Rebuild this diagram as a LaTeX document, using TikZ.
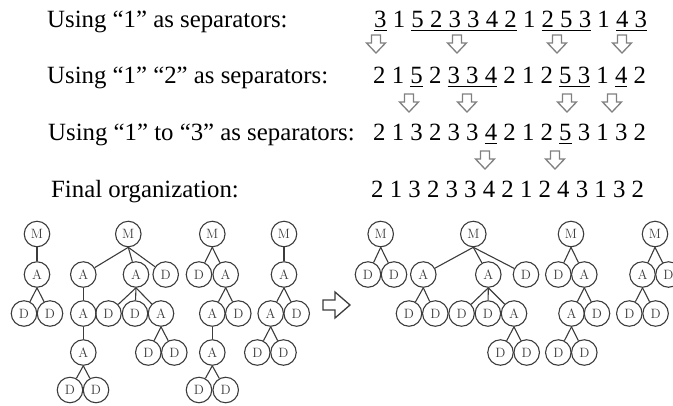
\documentclass[tikz,border=0pt]{standalone}
\usepackage{fontspec}
\newfontfamily\tnr{Liberation Serif}
\newcommand\myul[1]{\setbox0=\hbox{#1}\rlap{\rule[-4bp]{\wd0}{1.5bp}}\box0\relax}
\definecolor{treegray}{HTML}{3C3C3C}
\definecolor{arrgray}{HTML}{808080}
\tikzset{
  rowtext/.style={inner sep=0, anchor=base west, font=\tnr\fontsize{24.8bp}{28bp}\selectfont},
  tn/.style={circle, draw=treegray, line width=1.1bp, minimum size=25.5bp, inner sep=0,
             text=treegray, font=\fontsize{13.5bp}{13.5bp}\selectfont},
  edge/.style={draw=treegray, line width=1.1bp},
  garrow/.style={draw=arrgray, fill=white, line width=1.3bp, line join=miter},
  barrow/.style={draw=treegray, fill=white, line width=1.3bp, line join=miter},
  darr/.pic={\draw[garrow] (-4.5,0) -- (4.5,0) -- (4.5,8) -- (9.5,8) -- (0,18) -- (-9.5,8) -- (-4.5,8) -- cycle;}
}
\begin{document}
\begin{tikzpicture}[x=1bp,y=-1bp]
\useasboundingbox (0,0) rectangle (673,405);
\clip (0,0) rectangle (673,405);
% text rows
\node[rowtext] (lab1) at (47,27) {Using “1” as separators:};
\node[rowtext] (lab2) at (47,83) {Using “1” “2” as separators:};
\node[rowtext] (lab3) at (48,140) {Using “1” to “3” as separators:};
\node[rowtext] (lab4) at (51,197) {Final organization:};
\node[rowtext] (seq1) at (374,27) {\myul{3} 1 \myul{5 2 3 3 4 2} 1 \myul{2 5 3} 1 \myul{4 3}};
\node[rowtext] (seq2) at (373,83) {2 1 \myul{5} 2 \myul{3 3 4} 2 1 2 \myul{5 3} 1 \myul{4} 2};
\node[rowtext] (seq3) at (373,140) {2 1 3 2 3 3 \myul{4} 2 1 2 \myul{5} 3 1 3 2};
\node[rowtext] (seq4) at (371,197) {2 1 3 2 3 3 4 2 1 2 4 3 1 3 2};
% down arrows
\pic at (376,35) {darr};
\pic at (457,35) {darr};
\pic at (557,35) {darr};
\pic at (622,35) {darr};
\pic at (409,94) {darr};
\pic at (467,94) {darr};
\pic at (567,94) {darr};
\pic at (612,94) {darr};
\pic at (485,151) {darr};
\pic at (555,151) {darr};
% big arrow
\draw[barrow] (323,300) -- (335,300) -- (335,292) -- (350,305) -- (335,318) -- (335,310) -- (323,310) -- cycle;
% ---------- left trees ----------
% L1
\node[tn] (L1m) at (37,234) {M};
\node[tn] (L1a) at (37,274.5) {A};
\node[tn] (L1d1) at (24,313.5) {D};
\node[tn] (L1d2) at (50,313.5) {D};
\draw[edge] (L1m) -- (L1a);
\draw[edge] (L1a.south) -- (L1d1);
\draw[edge] (L1a.south) -- (L1d2);
% L2
\node[tn] (L2m) at (128.3,234) {M};
\node[tn] (L2a1) at (83.3,274.5) {A};
\node[tn] (L2a2) at (136,274.5) {A};
\node[tn] (L2d) at (165.7,274.5) {D};
\node[tn] (L2a1a) at (83.3,313.5) {A};
\node[tn] (L2a1aa) at (83.3,352.5) {A};
\node[tn] (L2dd1) at (70,390) {D};
\node[tn] (L2dd2) at (96,390) {D};
\node[tn] (L2a2d1) at (108.5,313.5) {D};
\node[tn] (L2a2d2) at (135,313.5) {D};
\node[tn] (L2a2a) at (161,313.5) {A};
\node[tn] (L2a2ad1) at (148.3,352.5) {D};
\node[tn] (L2a2ad2) at (174.3,352.5) {D};
\draw[edge] (L2m.south) -- (L2a1);
\draw[edge] (L2m.south) -- (L2a2);
\draw[edge] (L2m.south) -- (L2d);
\draw[edge] (L2a1) -- (L2a1a);
\draw[edge] (L2a1a) -- (L2a1aa);
\draw[edge] (L2a1aa.south) -- (L2dd1);
\draw[edge] (L2a1aa.south) -- (L2dd2);
\draw[edge] (L2a2.south) -- (L2a2d1);
\draw[edge] (L2a2.south) -- (L2a2d2);
\draw[edge] (L2a2.south) -- (L2a2a);
\draw[edge] (L2a2a.south) -- (L2a2ad1);
\draw[edge] (L2a2a.south) -- (L2a2ad2);
% L3
\node[tn] (L3m) at (212.3,234) {M};
\node[tn] (L3d) at (199,274.5) {D};
\node[tn] (L3a) at (225.7,274.5) {A};
\node[tn] (L3aa) at (212.3,313.5) {A};
\node[tn] (L3ad) at (238.3,313.5) {D};
\node[tn] (L3aaa) at (212.3,352.5) {A};
\node[tn] (L3d1) at (199,390) {D};
\node[tn] (L3d2) at (225.7,390) {D};
\draw[edge] (L3m.south) -- (L3d);
\draw[edge] (L3m.south) -- (L3a);
\draw[edge] (L3a.south) -- (L3aa);
\draw[edge] (L3a.south) -- (L3ad);
\draw[edge] (L3aa) -- (L3aaa);
\draw[edge] (L3aaa.south) -- (L3d1);
\draw[edge] (L3aaa.south) -- (L3d2);
% L4
\node[tn] (L4m) at (284,234) {M};
\node[tn] (L4a) at (284,274.5) {A};
\node[tn] (L4aa) at (270.7,313.5) {A};
\node[tn] (L4ad) at (296.7,313.5) {D};
\node[tn] (L4aad1) at (257.3,352.5) {D};
\node[tn] (L4aad2) at (283.5,352.5) {D};
\draw[edge] (L4m) -- (L4a);
\draw[edge] (L4a.south) -- (L4aa);
\draw[edge] (L4a.south) -- (L4ad);
\draw[edge] (L4aa.south) -- (L4aad1);
\draw[edge] (L4aa.south) -- (L4aad2);
% ---------- right trees ----------
% R1
\node[tn] (R1m) at (380.7,234) {M};
\node[tn] (R1d1) at (368,274.5) {D};
\node[tn] (R1d2) at (394,274.5) {D};
\draw[edge] (R1m.south) -- (R1d1);
\draw[edge] (R1m.south) -- (R1d2);
% R2
\node[tn] (R2m) at (473.3,234) {M};
\node[tn] (R2a1) at (423.3,274.5) {A};
\node[tn] (R2a2) at (488.3,274.5) {A};
\node[tn] (R2d) at (526,274.5) {D};
\node[tn] (R2a1d1) at (409,313.5) {D};
\node[tn] (R2a1d2) at (435.3,313.5) {D};
\node[tn] (R2a2d1) at (461.6,313.5) {D};
\node[tn] (R2a2d2) at (487.9,313.5) {D};
\node[tn] (R2a2a) at (514,313.5) {A};
\node[tn] (R2a2ad1) at (500.5,352.5) {D};
\node[tn] (R2a2ad2) at (526.7,352.5) {D};
\draw[edge] (R2m.south) -- (R2a1);
\draw[edge] (R2m.south) -- (R2a2);
\draw[edge] (R2m.south) -- (R2d);
\draw[edge] (R2a1.south) -- (R2a1d1);
\draw[edge] (R2a1.south) -- (R2a1d2);
\draw[edge] (R2a2.south) -- (R2a2d1);
\draw[edge] (R2a2.south) -- (R2a2d2);
\draw[edge] (R2a2.south) -- (R2a2a);
\draw[edge] (R2a2a.south) -- (R2a2ad1);
\draw[edge] (R2a2a.south) -- (R2a2ad2);
% R3
\node[tn] (R3m) at (571,234) {M};
\node[tn] (R3d) at (558.3,274.5) {D};
\node[tn] (R3a) at (584.3,274.5) {A};
\node[tn] (R3aa) at (571.5,313.5) {A};
\node[tn] (R3ad) at (597,313.5) {D};
\node[tn] (R3aad1) at (558.3,352.5) {D};
\node[tn] (R3aad2) at (584.3,352.5) {D};
\draw[edge] (R3m.south) -- (R3d);
\draw[edge] (R3m.south) -- (R3a);
\draw[edge] (R3a.south) -- (R3aa);
\draw[edge] (R3a.south) -- (R3ad);
\draw[edge] (R3aa.south) -- (R3aad1);
\draw[edge] (R3aa.south) -- (R3aad2);
% R4
\node[tn] (R4m) at (655,234) {M};
\node[tn] (R4a) at (642.5,274.5) {A};
\node[tn] (R4d) at (668.5,274.5) {D};
\node[tn] (R4ad1) at (629.3,313.5) {D};
\node[tn] (R4ad2) at (655.6,313.5) {D};
\draw[edge] (R4m.south) -- (R4a);
\draw[edge] (R4m.south) -- (R4d);
\draw[edge] (R4a.south) -- (R4ad1);
\draw[edge] (R4a.south) -- (R4ad2);
\end{tikzpicture}
\end{document}
